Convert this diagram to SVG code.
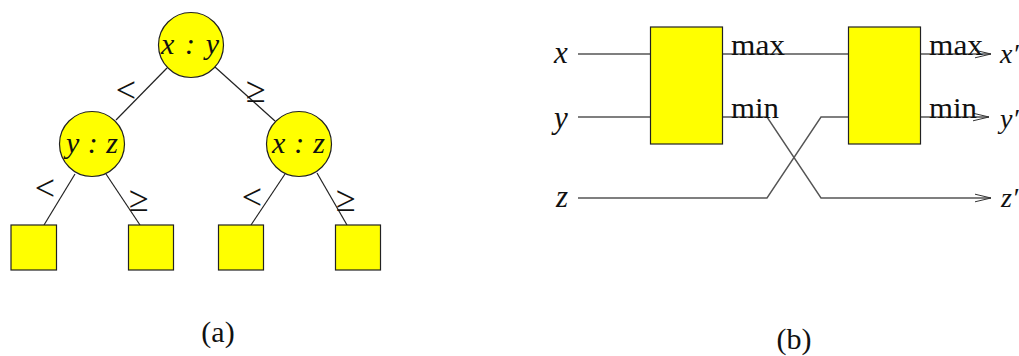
<svg xmlns="http://www.w3.org/2000/svg" width="1019" height="356" viewBox="0 0 1019 356">
<style>
.n{fill:#ffff00;stroke:#222;stroke-width:1.2}
.c line,.c polyline{stroke:#222;stroke-width:1.2;fill:none}
.w{stroke:#555!important;stroke-width:1.4!important}
text{font-family:"Liberation Serif","Times New Roman",serif;fill:#111;font-size:29px}
.m{font-style:italic;font-size:30px}
.i{font-style:italic;text-anchor:middle;font-size:31px}
.o{text-anchor:middle;font-size:36px}
.p{text-anchor:middle;font-size:30px}
.q{font-style:italic;font-size:28px}
</style>
<defs>
<marker id="a" markerUnits="userSpaceOnUse" markerWidth="20" markerHeight="12" refX="16" refY="5" orient="auto">
<path d="M0 1.2L16 5L0 8.8" fill="none" stroke="#333" stroke-width="1"/>
</marker>
</defs>
<g class="c" id="connectors">
<line x1="167" y1="68" x2="116" y2="120"/>
<line x1="215" y1="67" x2="275" y2="121"/>
<line x1="75" y1="174" x2="44" y2="225"/>
<line x1="106" y1="174" x2="140" y2="225"/>
<line x1="285" y1="174" x2="251" y2="225"/>
<line x1="317" y1="173" x2="347" y2="225"/>
<line class="w" x1="578" y1="54" x2="650" y2="54"/>
<line class="w" x1="578" y1="117" x2="650" y2="117"/>
<line class="w" x1="722" y1="54" x2="848" y2="54"/>
<polyline points="722,117 767,117 821,198 991,198" class="w" marker-end="url(#a)"/>
<polyline points="578,198 767,198 821,117 848,117" class="w"/>
<line class="w" x1="920" y1="54" x2="991" y2="54" marker-end="url(#a)"/>
<line class="w" x1="920" y1="117" x2="989" y2="117" marker-end="url(#a)"/>
</g>
<g id="node-xy"><circle class="n" cx="191" cy="45" r="32.5"/><text class="m" x="161" y="54" textLength="58">x : y</text></g>
<g id="node-yz"><circle class="n" cx="92" cy="144" r="32.5"/><text class="m" x="66" y="153" textLength="52">y : z</text></g>
<g id="node-xz"><circle class="n" cx="299" cy="144" r="32.5"/><text class="m" x="272" y="153" textLength="53">x : z</text></g>
<g id="leaf-1"><rect class="n" x="11" y="225" width="45.500" height="45"/></g>
<g id="leaf-2"><rect class="n" x="128.500" y="225" width="45" height="45"/></g>
<g id="leaf-3"><rect class="n" x="218.500" y="225" width="45" height="45"/></g>
<g id="leaf-4"><rect class="n" x="335.500" y="225" width="45" height="45"/></g>
<g id="comparator-1"><rect class="n" x="650.500" y="27" width="72" height="117"/></g>
<g id="comparator-2"><rect class="n" x="848.500" y="27" width="72" height="117"/></g>
<g id="labels">
<text class="o" x="126" y="102">&lt;</text>
<text class="o" x="256" y="102">≥</text>
<text class="o" x="45" y="200">&lt;</text>
<text class="o" x="139" y="211">≥</text>
<text class="o" x="252" y="209">&lt;</text>
<text class="o" x="346" y="211">≥</text>
<text class="p" x="218" y="342">(a)</text>
<text class="p" x="794" y="349">(b)</text>
<text class="i" x="561" y="63">x</text>
<text class="i" x="561" y="128">y</text>
<text class="i" x="562" y="207">z</text>
<text x="731" y="55" textLength="54" lengthAdjust="spacingAndGlyphs">max</text>
<text x="731" y="118" textLength="48" lengthAdjust="spacingAndGlyphs">min</text>
<text x="929" y="55" textLength="54" lengthAdjust="spacingAndGlyphs">max</text>
<text x="929" y="118" textLength="48" lengthAdjust="spacingAndGlyphs">min</text>
<text class="q" x="1000" y="63">x′</text>
<text class="q" x="1000" y="128">y′</text>
<text class="q" x="1001" y="207">z′</text>
</g>
</svg>
